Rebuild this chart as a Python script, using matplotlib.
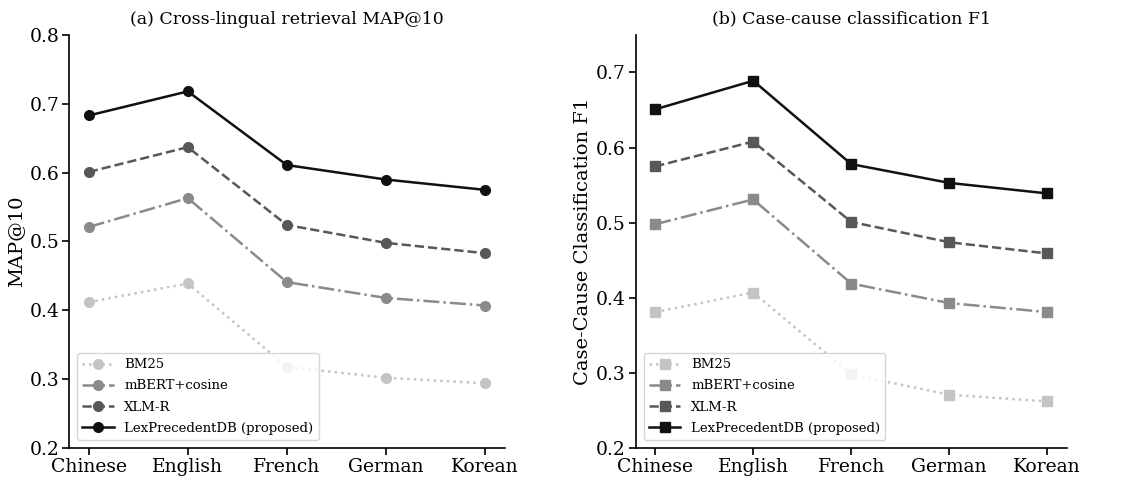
import numpy as np
import matplotlib.pyplot as plt

plt.rcParams['font.family'] = 'DejaVu Serif'

languages = ["Chinese", "English", "French", "German", "Korean"]
methods = ["BM25", "mBERT+cosine", "XLM-R", "LexPrecedentDB (proposed)"]

# (a) retrieval MAP@10
map_bm25 = [0.412, 0.439, 0.318, 0.302, 0.294]
map_mbert = [0.521, 0.563, 0.441, 0.418, 0.407]
map_xlmr = [0.601, 0.637, 0.524, 0.498, 0.483]
map_lex = [0.683, 0.718, 0.611, 0.590, 0.575]

# (b) case-cause F1
f1_bm25 = [0.381, 0.407, 0.298, 0.271, 0.262]
f1_mbert = [0.498, 0.531, 0.419, 0.393, 0.381]
f1_xlmr = [0.575, 0.608, 0.501, 0.474, 0.459]
f1_lex = [0.651, 0.689, 0.578, 0.553, 0.539]

colors = ['#c4c4c4', '#8a8a8a', '#585858', '#111111']
styles = [':', '-.', '--', '-']

fig = plt.figure(figsize=(11.23, 4.82), dpi=100)
ax1 = fig.add_axes([0.0614, 0.0705, 0.388, 0.857])
ax2 = fig.add_axes([0.566, 0.0705, 0.384, 0.857])

x = np.arange(len(languages))

def panel(ax, series, marker, title, ylabel, ylim, ticks):
    for vals, name, c, ls in zip(series, methods, colors, styles):
        ax.plot(x, vals, linestyle=ls, color=c, marker=marker, markersize=7,
                linewidth=1.8, label=name)
    ax.set_xticks(x)
    ax.set_xticklabels(languages, fontsize=13.5)
    ax.set_yticks(ticks)
    ax.set_yticklabels([f"{t:.1f}" for t in ticks], fontsize=13.5)
    ax.set_ylim(*ylim)
    ax.set_title(title, fontsize=12.5, pad=8)
    ax.set_ylabel(ylabel, fontsize=14, labelpad=3)
    ax.spines['top'].set_visible(False)
    ax.spines['right'].set_visible(False)
    ax.spines['left'].set_linewidth(1.2)
    ax.spines['bottom'].set_linewidth(1.2)
    ax.tick_params(width=1.2, length=5, pad=2)
    ax.legend(loc='lower left', fontsize=9.5, frameon=True, borderaxespad=0.6,
              labelspacing=0.62, handlelength=2.4)

panel(ax1, [map_bm25, map_mbert, map_xlmr, map_lex], 'o',
      "(a) Cross-lingual retrieval MAP@10", "MAP@10", (0.2, 0.8),
      [0.2, 0.3, 0.4, 0.5, 0.6, 0.7, 0.8])
panel(ax2, [f1_bm25, f1_mbert, f1_xlmr, f1_lex], 's',
      "(b) Case-cause classification F1", "Case-Cause Classification F1", (0.2, 0.75),
      [0.2, 0.3, 0.4, 0.5, 0.6, 0.7])

fig.savefig("out.png", dpi=100)
